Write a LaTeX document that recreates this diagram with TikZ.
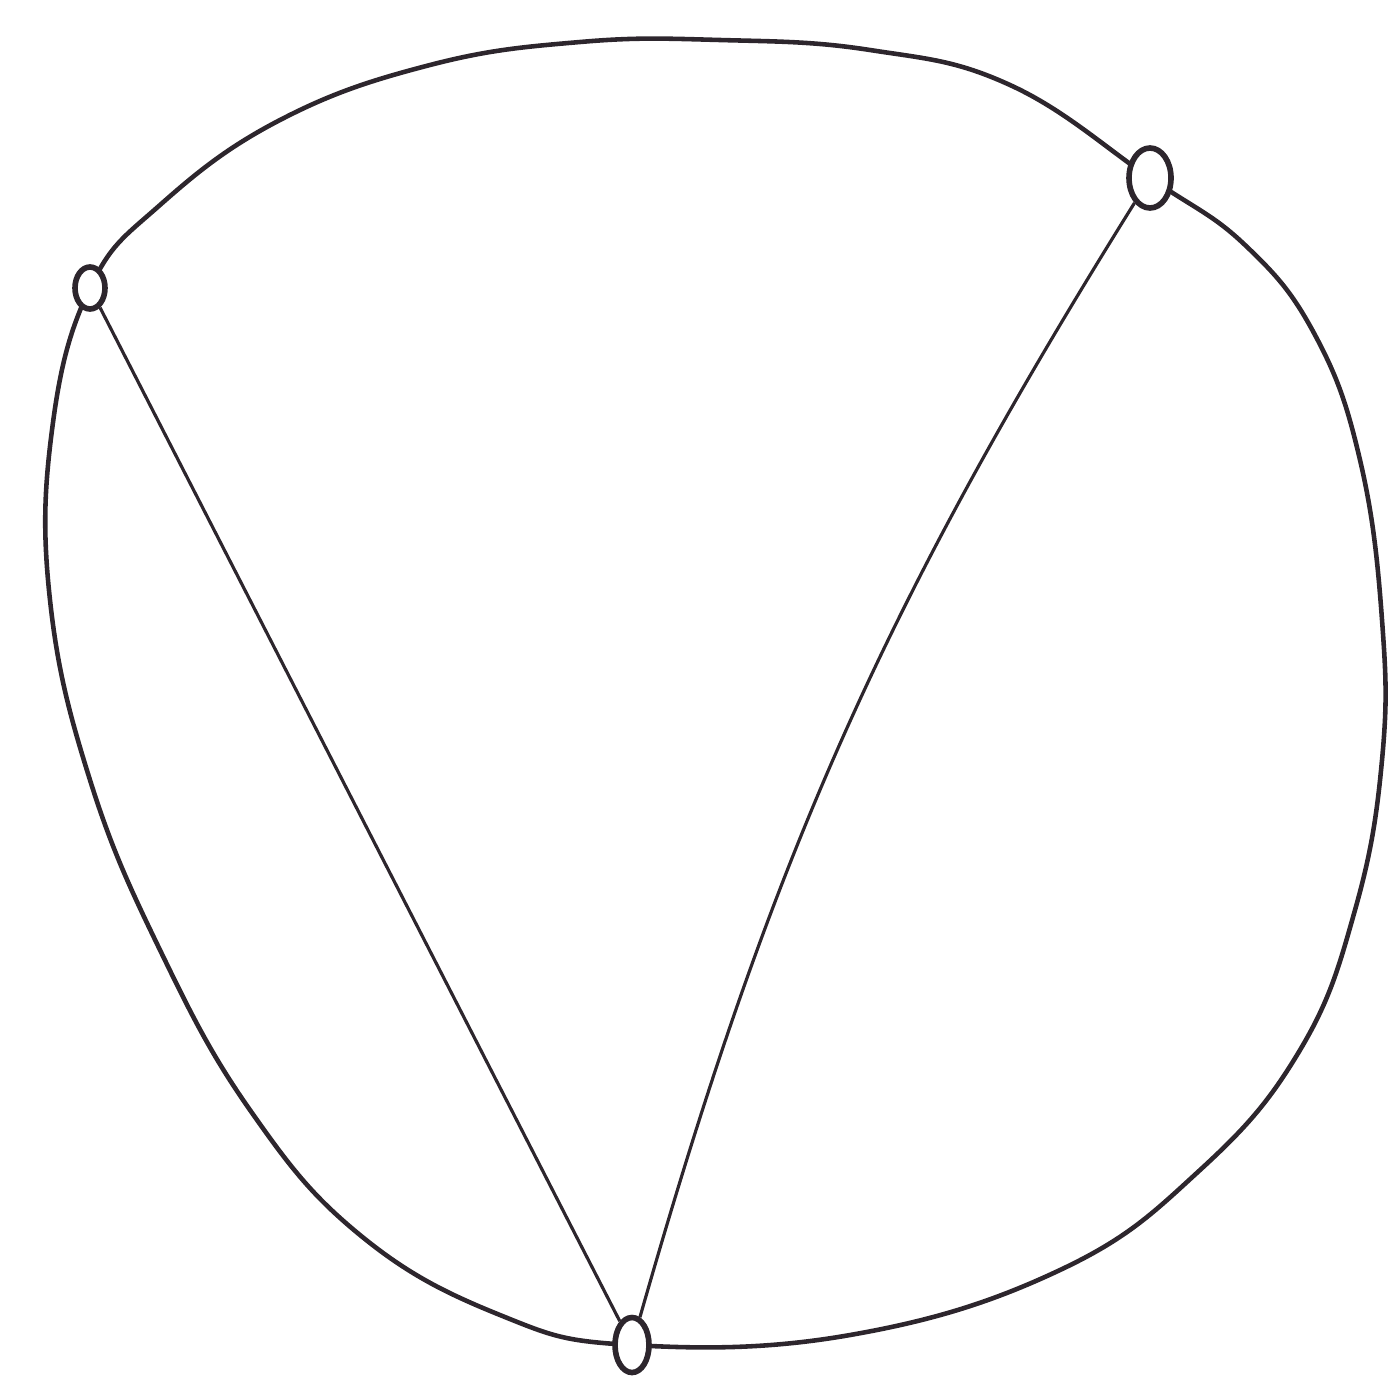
\documentclass[tikz,border=0pt]{standalone}
\usepackage{xcolor}
\usepackage{tikz}
\usetikzlibrary{shapes.geometric, positioning}
\definecolor{pencil}{RGB}{45,38,45}
\tikzset{
  dot/.style={ellipse, draw=pencil, fill=white, inner sep=0pt,
    minimum width=0.3cm, minimum height=0.42cm, line width=1.6pt},
  rim/.style={line width=1.3pt, color=pencil, line join=round},
  chord/.style={line width=0.9pt, color=pencil}
}

\begin{document}
\begin{tikzpicture}[x=1cm, y=1cm]
  \useasboundingbox (0,0) rectangle (13.92,-13.88);
  % Points on the circle
  \coordinate (pa) at (0.90,-2.88);
  \coordinate (pb) at (11.50,-1.78);
  \coordinate (pc) at (6.32,-13.45);

  % Circle (hand drawn)
  \draw[rim] plot[smooth cycle, tension=0.7] coordinates {
    (pa) (1.6,-2.05) (2.8,-1.2) (4.3,-0.65) (5.8,-0.42) (7.2,-0.4)
    (8.7,-0.5) (10.1,-0.85) (pb) (12.45,-2.45) (13.15,-3.35)
    (13.6,-4.6) (13.82,-6.2) (13.82,-7.6) (13.55,-9.1)
    (13.0,-10.5) (12.0,-11.7) (10.6,-12.7) (8.5,-13.35)
    (pc) (5.0,-13.15) (3.6,-12.35) (2.5,-11.1) (1.6,-9.5)
    (0.9,-7.8) (0.5,-6.0) (0.52,-4.3)};

  % Nodes
  \node[dot] (a) at (pa) {};
  \node[dot, minimum width=0.42cm, minimum height=0.6cm] (b) at (pb) {};
  \node[dot, minimum width=0.34cm, minimum height=0.55cm] (c) at (pc) {};

  % Chords
  \draw[chord] (a) -- (c);
  \draw[chord] (b) to[bend right=8] (c);
\end{tikzpicture}
\end{document}
